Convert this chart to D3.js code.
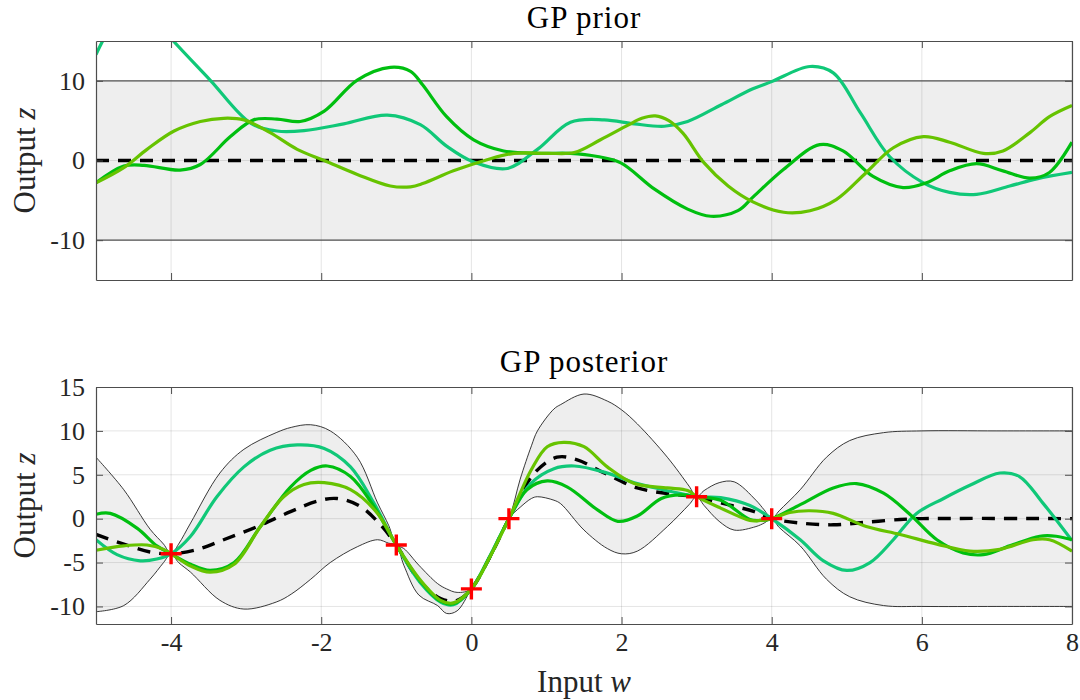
<!DOCTYPE html>
<html>
<head>
<meta charset="utf-8">
<script src="https://cdn.jsdelivr.net/npm/d3@7"></script>
<style>
  body { margin: 0; background: #fff; }
</style>
</head>
<body>
<script>
// ---- data ----
const xTicks = [-4, -2, 0, 2, 4, 6, 8]
const priorYTicks = [-10, 0, 10]
const postYTicks = [-10, -5, 0, 5, 10, 15]

// prior: mean 0, band +-10
const priorBandX = [-5, 8]
const priorUpper = [10, 10]
const priorLower = [-10, -10]
const priorMean = [[-5, 0], [8, 0]]

const priorTeal = [[-5,13.3],[-4.75,17.5],[-4.5,19.5],[-4.25,18],[-3.97,15],[-3.48,10.1],[-2.94,4.7],[-2.59,3.7],[-2.23,3.75],[-1.7,4.6],[-1.12,5.7],[-0.68,4.5],[-0.33,1.8],[0.03,-0.2],[0.48,-1.0],[0.88,1.4],[1.32,4.8],[1.77,5.1],[2.17,4.6],[2.57,4.3],[2.88,4.9],[3.33,7.0],[3.75,9.0],[4.0,9.9],[4.51,11.8],[4.82,11.0],[5.18,6.0],[5.57,0.5],[6.02,-2.8],[6.37,-4.0],[6.73,-4.25],[7.17,-3.2],[7.53,-2.3],[8,-1.5]]
const priorGreen = [[-5,-2.8],[-4.63,-0.7],[-4.36,-0.6],[-3.88,-1.2],[-3.61,-0.5],[-3.21,3.0],[-2.9,5.1],[-2.59,5.2],[-2.28,4.9],[-1.96,6.2],[-1.52,10.1],[-1.08,11.7],[-0.81,11.2],[-0.65,9.5],[-0.33,5.5],[0.03,2.6],[0.43,1.2],[0.88,0.9],[1.32,0.9],[1.68,0.5],[1.99,-0.3],[2.44,-3.6],[2.88,-6.1],[3.19,-7.0],[3.55,-6.3],[3.75,-4.6],[4.16,-1.1],[4.64,2.0],[4.95,1.2],[5.35,-2.0],[5.75,-3.4],[6.06,-2.8],[6.37,-1.3],[6.73,-0.4],[7.08,-1.3],[7.44,-2.2],[7.7,-1.5],[8,2.3]]
const priorYellow = [[-5,-2.8],[-4.63,-0.9],[-4.32,1.4],[-3.96,3.7],[-3.61,4.9],[-3.3,5.3],[-3.03,5.1],[-2.68,3.5],[-2.32,1.4],[-1.96,0.0],[-1.52,-1.75],[-1.08,-3.2],[-0.81,-3.3],[-0.65,-2.9],[-0.24,-1.3],[0.21,0.1],[0.57,0.9],[1.01,0.9],[1.37,1.0],[1.72,2.6],[2.08,4.4],[2.27,5.3],[2.45,5.6],[2.63,5.0],[2.82,3.4],[3.1,-0.3],[3.42,-3.2],[3.75,-5.2],[4.16,-6.5],[4.51,-6.3],[4.86,-4.9],[5.26,-1.5],[5.62,1.6],[6.02,3.0],[6.37,2.3],[6.82,0.9],[7.08,1.2],[7.44,3.5],[7.7,5.5],[8,6.9]]

// posterior
const obsX = [-4, -1, 0, 0.5, 3, 4]
const obsY = [-4, -3, -8, 0, 2.5, 0]

const bandX     = [-5, -4.63, -4.28, -4.1, -4, -3.9, -3.74, -3.35, -3.03, -2.6, -2.4, -2.14, -1.88, -1.52, -1.25, -1.1, -1, -0.9, -0.7, -0.45, -0.33, -0.19, 0, 0.25, 0.5, 0.65, 0.8, 0.88, 1.1, 1.19, 1.5, 1.81, 2.0, 2.21, 2.61, 2.9, 3, 3.1, 3.3, 3.5, 3.79, 3.9, 4, 4.1, 4.38, 4.73, 5.04, 5.49, 6, 7, 8]
const bandUpper = [7.0, 3.3, -1.2, -2.9, -4, -2.9, -0.5, 5.2, 7.9, 9.8, 10.4, 10.7, 10.0, 7.0, 1.8, -0.8, -3, -3.4, -5.3, -7.4, -8.0, -8.4, -8, -4.0, 0, 4.5, 8.3, 10.0, 12.5, 13.0, 14.2, 13.4, 12.4, 10.8, 7.0, 3.7, 2.5, 3.2, 4.1, 4.2, 2.1, 1.0, 0, 0.9, 3.3, 7.0, 8.9, 9.8, 10, 10, 10]
const bandLower = [-10.6, -9.9, -6.9, -5.0, -4, -5.0, -6.1, -9.3, -10.3, -9.5, -8.6, -6.9, -5.0, -3.2, -2.4, -2.8, -3, -5.3, -8.7, -9.9, -10.8, -10.5, -8, -4.6, 0, 1.3, 2.3, 2.5, 2.1, 1.7, -1.3, -3.4, -4.0, -3.7, -0.9, 1.6, 2.5, 1.5, -0.3, -1.3, -0.9, -0.5, 0, -1.0, -3.1, -6.9, -8.9, -9.9, -10, -10, -10]

const postMean = [[-5,-1.8],[-4.63,-2.9],[-4.28,-3.8],[-4,-4],[-3.65,-3.5],[-3.3,-2.4],[-2.85,-0.9],[-2.41,0.8],[-2.05,2.0],[-1.79,2.3],[-1.48,1.4],[-1.21,-0.7],[-1,-3],[-0.7,-7.0],[-0.41,-9.1],[-0.19,-9.3],[0,-8],[0.25,-4.3],[0.5,0],[0.83,5.1],[1.14,7.0],[1.41,6.7],[1.77,5.2],[2.21,3.5],[2.66,2.8],[3,2.5],[3.32,1.8],[3.77,0.8],[4,0],[4.38,-0.5],[4.82,-0.7],[5.26,-0.4],[5.71,-0.1],[6,0],[8,0]]
const postTeal = [[-5,-2.4],[-4.72,-4.1],[-4.41,-4.8],[-4.19,-4.6],[-4,-4],[-3.74,-2.0],[-3.39,2.5],[-3.03,5.9],[-2.68,7.8],[-2.32,8.4],[-1.96,8.0],[-1.61,5.9],[-1.3,1.8],[-1,-3],[-0.68,-7.3],[-0.41,-9.5],[-0.24,-9.8],[0,-8],[0.25,-4.2],[0.5,0],[0.79,4.0],[1.1,5.7],[1.37,6.0],[1.77,5.3],[2.21,4.0],[2.66,3.1],[3,2.5],[3.32,2.4],[3.71,1.5],[4,0],[4.38,-2.4],[4.69,-4.8],[5.0,-5.9],[5.31,-5.0],[5.62,-2.4],[5.93,0.6],[6.29,2.3],[6.64,3.8],[7.04,5.2],[7.3,4.8],[7.61,1.8],[8,-2.5]]
const postGreen = [[-5,0.5],[-4.81,0.6],[-4.45,-1.1],[-4.19,-3.1],[-4,-4],[-3.74,-5.2],[-3.48,-5.9],[-3.16,-5.0],[-2.81,-0.9],[-2.41,3.6],[-2.14,5.5],[-1.92,6.0],[-1.61,4.8],[-1.3,1.4],[-1,-3],[-0.68,-7.1],[-0.41,-9.4],[-0.24,-9.7],[0,-8],[0.25,-4.3],[0.5,0],[0.74,3.3],[1.01,4.3],[1.28,3.6],[1.68,1.0],[1.95,-0.3],[2.21,0.3],[2.53,2.3],[2.79,2.7],[3,2.5],[3.32,2.1],[3.71,-0.1],[3.85,-0.2],[4,0],[4.38,1.6],[4.82,3.5],[5.13,4.0],[5.49,2.9],[5.84,0.5],[6.2,-2.4],[6.55,-3.9],[6.82,-4.1],[7.17,-3.1],[7.57,-2.0],[7.79,-2.0],[8,-2.4]]
const postYellow = [[-5,-3.6],[-4.63,-3.1],[-4.32,-3.0],[-4.1,-3.5],[-4,-4],[-3.74,-5.4],[-3.48,-6.1],[-3.16,-5.2],[-2.81,-0.9],[-2.5,2.5],[-2.23,3.9],[-1.96,4.1],[-1.61,3.3],[-1.25,0.6],[-1,-3],[-0.68,-7.0],[-0.41,-9.3],[-0.24,-9.6],[0,-8],[0.25,-4.3],[0.5,0],[0.8,5.6],[1.01,8.2],[1.23,8.7],[1.5,8.2],[1.81,5.9],[2.17,4.0],[2.61,3.5],[2.88,3.2],[3,2.5],[3.32,1.2],[3.71,-0.2],[3.85,-0.2],[4,0],[4.24,0.7],[4.51,0.9],[4.82,0.6],[5.26,-0.9],[5.71,-1.8],[6.2,-2.9],[6.64,-3.7],[7.04,-3.5],[7.48,-2.4],[7.7,-2.4],[8,-3.7]]

const colTeal = '#10c878'
const colGreen = '#00bf10'
const colYellow = '#66c300'

// ---- layout ----
const w = 1080
const h = 700
const left = 96
const right = 1072
const serif = 'Liberation Serif'

const svg = d3.select('body')
              .append('svg')
              .attr('width', w)
              .attr('height', h)

const x = d3.scaleLinear()
            .domain([-5, 8])
            .range([left, right])

const line = (y) => d3.line()
                      .x(d => x(d[0]))
                      .y(d => y(d[1]))
                      .curve(d3.curveCatmullRom.alpha(0.5))

// matlab style labels use a plain hyphen
const fmt = d => String(d)

drawPanel = (opt) => {
  const y = d3.scaleLinear()
              .domain(opt.domain)
              .range([opt.bottom, opt.top])

  const g = svg.append('g')

  g.append('clipPath')
   .attr('id', opt.id)
   .append('rect')
   .attr('x', left)
   .attr('y', opt.top)
   .attr('width', right - left)
   .attr('height', opt.bottom - opt.top)

  const plot = g.append('g').attr('clip-path', `url(#${opt.id})`)

  // uncertainty band
  const band = opt.bandX.map((v, i) => [v, opt.upper[i], opt.lower[i]])
  const area = d3.area()
                 .x(d => x(d[0]))
                 .y0(d => y(d[2]))
                 .y1(d => y(d[1]))
                 .curve(d3.curveCatmullRom.alpha(0.5))
  plot.append('path')
      .datum(band)
      .attr('d', area)
      .attr('fill', '#eeeeee')

  // grid
  plot.selectAll('.gx')
      .data(xTicks)
      .enter()
      .append('line')
      .attr('x1', d => x(d)).attr('x2', d => x(d))
      .attr('y1', opt.top).attr('y2', opt.bottom)
      .attr('stroke', 'rgba(38,38,38,0.12)')
  plot.selectAll('.gy')
      .data(opt.yTicks)
      .enter()
      .append('line')
      .attr('x1', left).attr('x2', right)
      .attr('y1', d => y(d)).attr('y2', d => y(d))
      .attr('stroke', 'rgba(38,38,38,0.12)')

  // band edges
  ;[1, 2].forEach(k => {
    plot.append('path')
        .datum(band.map(d => [d[0], d[k]]))
        .attr('d', line(y))
        .attr('fill', 'none')
        .attr('stroke', opt.edge)
        .attr('stroke-width', opt.edgeWidth)
  })

  // mean (under the samples)
  plot.append('path')
      .datum(opt.mean)
      .attr('d', line(y))
      .attr('fill', 'none')
      .attr('stroke', '#000')
      .attr('stroke-width', 3.4)
      .attr('stroke-dasharray', '13,9')

  // samples
  opt.samples.forEach(s => {
    plot.append('path')
        .datum(s.data)
        .attr('d', line(y))
        .attr('fill', 'none')
        .attr('stroke', s.color)
        .attr('stroke-width', 3.2)
  })

  // observations
  if (opt.obs) {
    g.selectAll('.obs')
     .data(opt.obs)
     .enter()
     .append('path')
     .attr('transform', d => `translate(${x(d[0])},${y(d[1])})`)
     .attr('d', 'M-10.5,0H10.5M0,-10.5V10.5')
     .attr('stroke', '#ff0000')
     .attr('stroke-width', 3.4)
  }

  // axes, ticks pointing inward
  const axisCol = '#4d4d4d'
  const ax = (a, tr) => {
    const sel = g.append('g').attr('transform', tr).call(a)
    sel.attr('font-family', serif).attr('font-size', 26)
    sel.select('.domain').attr('stroke', axisCol).attr('stroke-width', 1.2)
    sel.selectAll('.tick line').attr('stroke', axisCol)
    sel.selectAll('text').attr('fill', '#262626')
    return sel
  }
  const xb = d3.axisBottom(x).tickValues(xTicks).tickSizeInner(-7).tickSizeOuter(0).tickPadding(9)
  xb.tickFormat(opt.xLabels ? fmt : '')
  ax(xb, `translate(0,${opt.bottom})`)
  ax(d3.axisTop(x).tickValues(xTicks).tickSizeInner(-7).tickSizeOuter(0).tickFormat(''), `translate(0,${opt.top})`)
  ax(d3.axisLeft(y).tickValues(opt.yTicks).tickSizeInner(-7).tickSizeOuter(0).tickPadding(11).tickFormat(fmt), `translate(${left},0)`)
  ax(d3.axisRight(y).tickValues(opt.yTicks).tickSizeInner(-7).tickSizeOuter(0).tickFormat(''), `translate(${right},0)`)

  // title
  g.append('text')
   .attr('x', (left + right) / 2)
   .attr('y', opt.titleY)
   .attr('text-anchor', 'middle')
   .attr('font-family', serif)
   .attr('font-size', 31)
   .attr('letter-spacing', 1)
   .attr('fill', '#000')
   .text(opt.title)

  // y label
  const yl = g.append('text')
              .attr('transform', `translate(35,${(opt.top + opt.bottom) / 2}) rotate(-90)`)
              .attr('text-anchor', 'middle')
              .attr('font-family', serif)
              .attr('font-size', 31)
              .attr('fill', '#262626')
  yl.append('tspan').text('Output ')
  yl.append('tspan').attr('font-style', 'italic').text('z')

  return y
}

drawPanel({
  id: 'clip-prior',
  top: 41, bottom: 280,
  domain: [-15, 15],
  yTicks: priorYTicks,
  bandX: priorBandX, upper: priorUpper, lower: priorLower,
  edge: '#555555', edgeWidth: 1.1,
  mean: priorMean,
  samples: [{data: priorTeal, color: colTeal}, {data: priorGreen, color: colGreen}, {data: priorYellow, color: colYellow}],
  xLabels: false,
  title: 'GP prior', titleY: 28
})

drawPanel({
  id: 'clip-post',
  top: 387, bottom: 624,
  domain: [-12, 15],
  yTicks: postYTicks,
  bandX: bandX, upper: bandUpper, lower: bandLower,
  edge: '#222222', edgeWidth: 0.9,
  mean: postMean,
  samples: [{data: postTeal, color: colTeal}, {data: postGreen, color: colGreen}, {data: postYellow, color: colYellow}],
  obs: obsX.map((v, i) => [v, obsY[i]]),
  xLabels: true,
  title: 'GP posterior', titleY: 372
})

// x label
const xl = svg.append('text')
              .attr('x', (left + right) / 2)
              .attr('y', 692)
              .attr('text-anchor', 'middle')
              .attr('font-family', serif)
              .attr('font-size', 31)
              .attr('fill', '#262626')
xl.append('tspan').text('Input ')
xl.append('tspan').attr('font-style', 'italic').text('w')
</script>
</body>
</html>
